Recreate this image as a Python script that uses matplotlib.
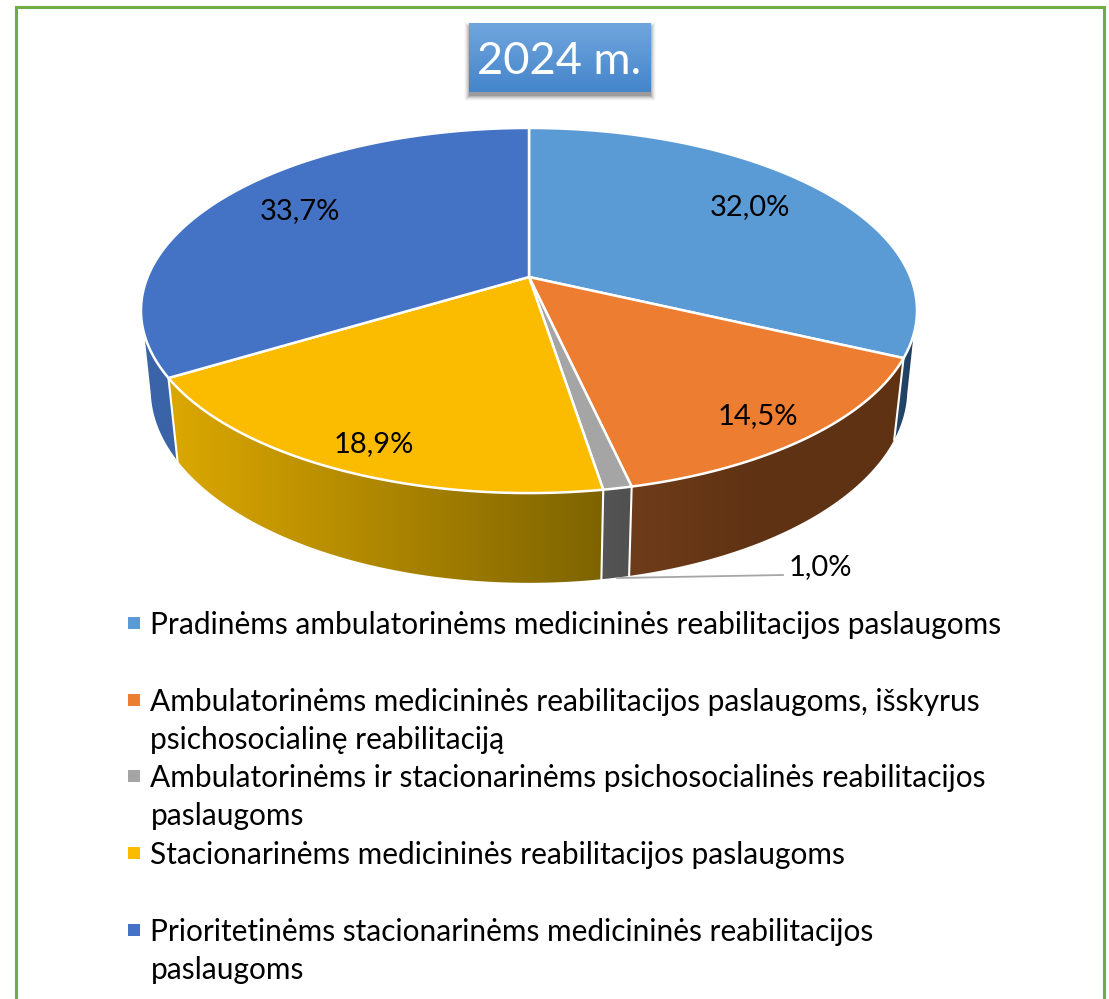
import numpy as np
import matplotlib
matplotlib.use('Agg')
import matplotlib.pyplot as plt
from matplotlib.colors import LinearSegmentedColormap
from matplotlib.patches import Polygon, Rectangle

plt.rcParams['font.family'] = ['Lato', 'DejaVu Sans']

title = '2024 m.'
values = [32.0, 14.5, 1.0, 18.9, 33.7]
colors = ['#5b9bd5', '#ed7d31', '#a5a5a5', '#fbbc00', '#4472c4']
legend_lines = [
    ['Pradinėms ambulatorinėms medicininės reabilitacijos paslaugoms'],
    ['Ambulatorinėms medicininės reabilitacijos paslaugoms, išskyrus', 'psichosocialinę reabilitaciją'],
    ['Ambulatorinėms ir stacionarinėms psichosocialinės reabilitacijos', 'paslaugoms'],
    ['Stacionarinėms medicininės reabilitacijos paslaugoms'],
    ['Prioritetinėms stacionarinėms medicininės reabilitacijos', 'paslaugoms'],
]
legend_y = [625, 702, 778, 855, 932]
label_pos = [(750, 207), (758, 416), (820, 567), (374, 444), (300, 211)]

fig = plt.figure(figsize=(11.09, 9.99), dpi=100)
ax = fig.add_axes([0, 0, 1, 1])
ax.axis('off')


# tilted disc seen in perspective, theta is clockwise from the top
def top_rim(theta):
    u, v = np.sin(theta), np.cos(theta)
    d = 1 + 0.1836 * v
    return 529 + 381.4 * u / d, 277 - 176.4 * v / d


def bottom_rim(theta):
    x, y = top_rim(theta)
    return 529 + 0.975 * (x - 529), 353.8 + 1.06 * (y - 277)


def side_shape(t0, t1, t0_low=None, t1_low=None):
    t0_low = t0 if t0_low is None else t0_low
    t1_low = t1 if t1_low is None else t1_low
    tx, ty = top_rim(np.linspace(t0, t1, 80))
    bx, by = bottom_rim(np.linspace(t1_low, t0_low, 80))
    return np.column_stack([np.r_[tx, bx], np.r_[ty, by]])


def gradient_fill(pts, stops):
    cmap = LinearSegmentedColormap.from_list('g', stops)
    x0, y0 = pts.min(axis=0)
    x1, y1 = pts.max(axis=0)
    ramp = np.linspace(0, 1, 256).reshape(1, -1)
    im = ax.imshow(ramp, cmap=cmap, extent=(x0, x1, y1, y0), aspect='auto', zorder=2)
    poly = Polygon(pts, closed=True, transform=ax.transData, facecolor='none', edgecolor='none')
    ax.add_patch(poly)
    im.set_clip_path(poly)


fractions = np.array(values) / sum(values)
edges = np.r_[0, np.cumsum(fractions)] * 2 * np.pi

# side walls
gradient_fill(side_shape(edges[4], np.radians(252), None, np.radians(258)), ['#3a64a8', '#3a64a8'])
gradient_fill(side_shape(np.radians(108), edges[1], np.radians(102), None), ['#24476b', '#1f3f5f'])
gradient_fill(side_shape(edges[1], edges[2]), ['#6f3c1a', '#5e3213', '#5e3213'])
gradient_fill(side_shape(edges[2], edges[3]), ['#555555', '#505050'])
gradient_fill(side_shape(edges[3], edges[4]), ['#dca800', '#7e6400'])

for e in edges[1:5]:
    tx, ty = top_rim(e)
    bx, by = bottom_rim(e)
    ax.plot([tx, bx], [ty, by], color='white', lw=1.5, zorder=3)

# top face
for i, c in enumerate(colors):
    tx, ty = top_rim(np.linspace(edges[i], edges[i + 1], 200))
    ax.fill(np.r_[529, tx], np.r_[277, ty], facecolor=c, edgecolor='white', lw=1.8,
            joinstyle='round', zorder=4)

# data labels
for v, (x, y) in zip(values, label_pos):
    ax.text(x, y, f'{v:.1f}'.replace('.', ',') + '%', fontsize=21, color='black',
            ha='center', va='center', zorder=6)
ax.plot([617, 783], [578, 575], color='#a6a6a6', lw=1.3, zorder=5)

# legend
for lines, y, c in zip(legend_lines, legend_y, colors):
    ax.add_patch(Rectangle((128, y - 8), 12, 12, facecolor=c, edgecolor='none', zorder=5))
    for j, line in enumerate(lines):
        ax.text(150.5, y + j * 38.5, line, fontsize=21.5, color='black', ha='left',
                va='center', zorder=6)

# title box with soft shadow
for grow, alpha in zip([5, 4, 3, 2, 1, 0], [.02, .04, .06, .08, .11, .15]):
    ax.add_patch(Rectangle((469 - grow, 27 - grow), 182 + 2 * grow, 69 + 2 * grow,
                           facecolor='black', alpha=alpha, edgecolor='none', zorder=6))
cmap = LinearSegmentedColormap.from_list('t', ['#70a6dd', '#4585cb'])
ax.imshow(np.linspace(0, 1, 256).reshape(-1, 1), cmap=cmap, extent=(469, 651, 92, 23),
          aspect='auto', zorder=7)
ax.text(559, 61, title, fontsize=32.5, color='white', ha='center', va='center', zorder=8)

# green frame, open at the bottom of the crop
ax.plot([16, 16, 1103.5, 1103.5], [999, 7, 7, 999], color='#70ad47', lw=2.2,
        solid_joinstyle='miter', zorder=1)

ax.set_xlim(0, 1109)
ax.set_ylim(999, 0)
fig.savefig('out.png', dpi=100, facecolor='white')
